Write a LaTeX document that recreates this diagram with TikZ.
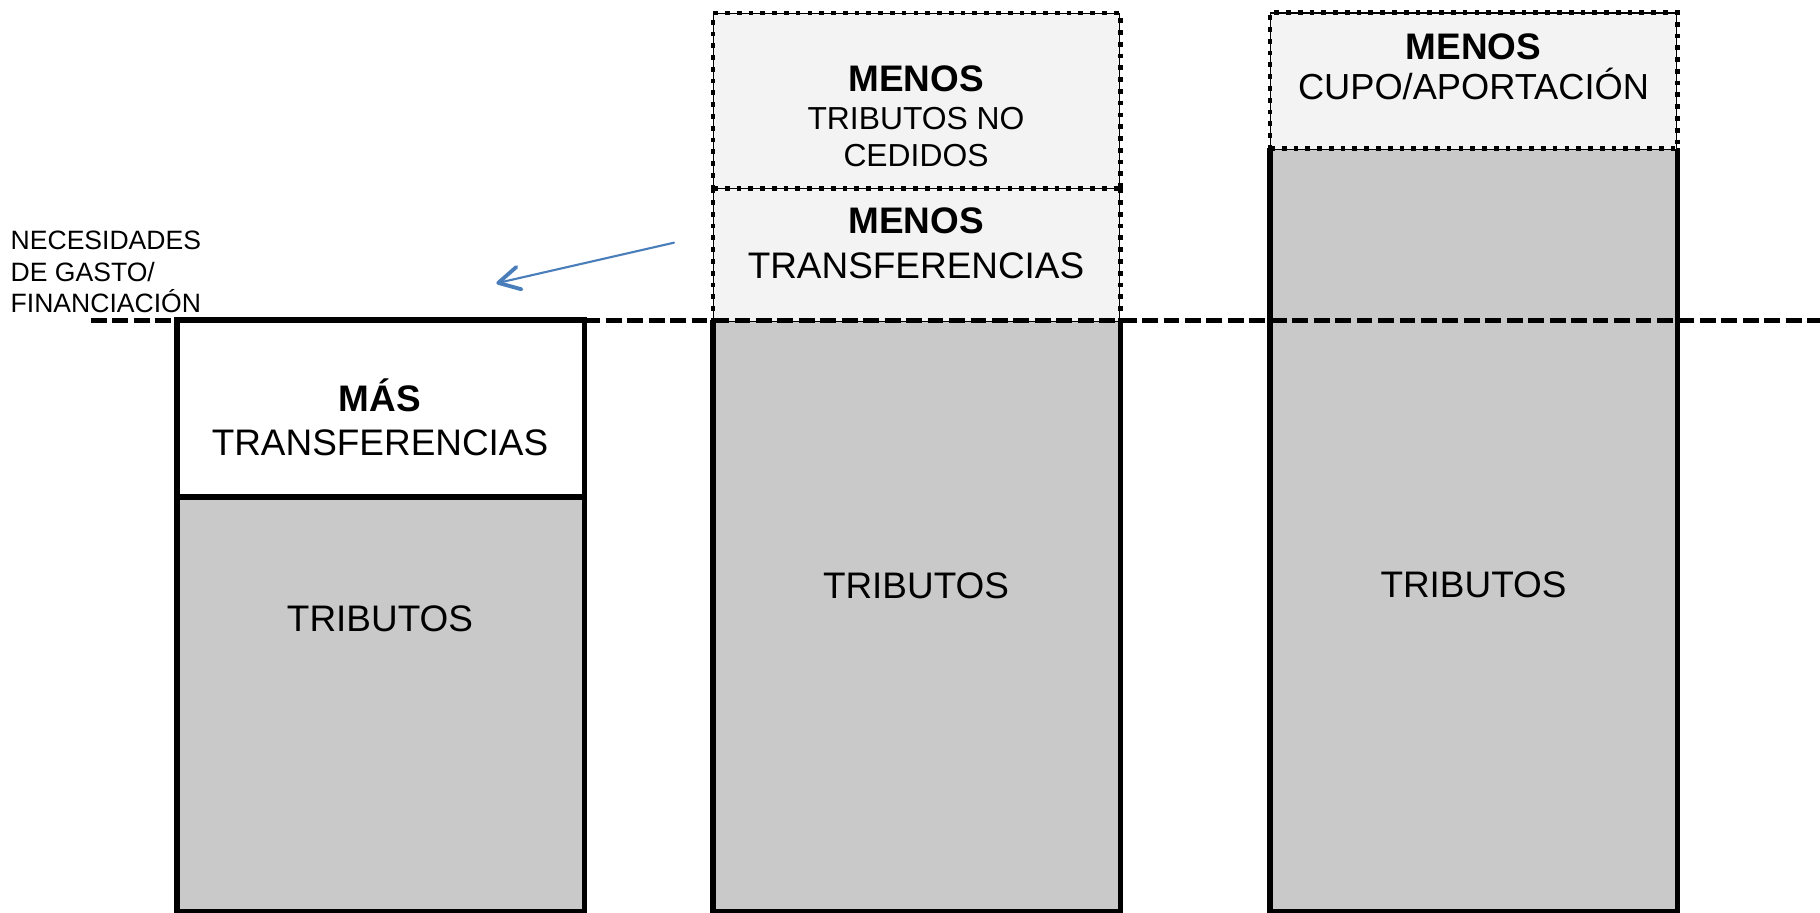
\documentclass[tikz,border=0pt]{standalone}
\usepackage{fontspec}
\setmainfont{Liberation Sans}
\usetikzlibrary{arrows.meta}
\definecolor{bargray}{RGB}{201,201,201}
\definecolor{lightfill}{RGB}{243,243,243}
\definecolor{arrowblue}{RGB}{74,126,187}
\tikzset{
  solidedge/.style={line width=1.45pt, line join=miter},
  thinedge/.style={line width=0.3pt},
  dotedge/.style={line width=1.35pt, dash pattern=on 1.35pt off 2pt},
  barbox/.style={rectangle, inner sep=0pt, minimum width=4.06cm, anchor=north west},
  whitebox/.style={barbox, fill=white},
  lightbox/.style={barbox, fill=lightfill, draw, thinedge},
  graybox/.style={barbox, fill=bargray},
  needline/.style={line width=1.45pt, dash pattern=on 4.5pt off 1.6pt},
  lbl/.style={inner sep=0pt, anchor=base, font=\fontsize{10.5}{12}\selectfont},
  lblb/.style={lbl, font=\fontsize{10.5}{12}\selectfont\bfseries},
  lbls/.style={lbl, font=\fontsize{9.05}{11}\selectfont},
  lblc/.style={lbl, font=\fontsize{10.3}{12}\selectfont},
  sidelbl/.style={inner sep=0pt, anchor=base west, font=\fontsize{7.55}{9}\selectfont},
  pointer/.style={draw=arrowblue, line width=0.6pt, line cap=round,
    -{Straight Barb[length=6pt,width=6.5pt,line width=1.1pt,round]}},
}
\begin{document}
\begin{tikzpicture}[x=0.01cm,y=-0.01cm]
\useasboundingbox (0,0) rectangle (1820,913);

% Bar 1
\node[whitebox, minimum height=1.755cm] (t1) at (177,320) {};
\node[graybox, minimum height=4.145cm] (g1) at (177,495.5) {};
\draw[solidedge] (g1.north west) -- (g1.south west) -- (g1.south east) -- (g1.north east);
\draw[solidedge] (t1.north west) rectangle (t1.south east);

% Bar 2
\node[graybox, minimum height=5.895cm] (g2) at (713,320.5) {};
\draw[solidedge] (g2.north west) -- (g2.south west) -- (g2.south east) -- (g2.north east);
\node[lightbox, minimum height=1.753cm] (n2) at (713,13) {};
\node[lightbox, minimum height=1.322cm] (m2) at (713,188.3) {};
\draw[dotedge] (n2.south west) -- (n2.north west) -- (n2.north east) -- (n2.south east);
\draw[dotedge] (m2.north west) -- (m2.north east);
\draw[dotedge] (m2.north west) -- (m2.south west);
\draw[dotedge] (m2.north east) -- (m2.south east);

% Bar 3
\node[graybox, minimum height=7.615cm] (g3) at (1270,148.5) {};
\draw[solidedge] (g3.north west) -- (g3.south west) -- (g3.south east) -- (g3.north east);
\node[lightbox, minimum height=1.36cm] (c3) at (1270,12.5) {};
\draw[dotedge] (c3.south west) -- (c3.north west) -- (c3.north east) -- (c3.south east);
\draw[dotedge] (g3.north west) -- (g3.north east);

% Level line
\coordinate (dl) at (91,320.5);
\coordinate (dr) at (1820,320.5);
\draw[needline] (dl) -- (dr);

% Texts bar 1
\node[lblb] (t1a) at (380,411.7) {MÁS};
\node[lbl] (t1b) at (380,455.5) {TRANSFERENCIAS};
\node[lbl] (g1t) at (380,632) {TRIBUTOS};

% Texts bar 2
\node[lblb] (n2a) at (916,92) {MENOS};
\node[lbls] (n2b) at (916,129.5) {TRIBUTOS NO};
\node[lbls] (n2c) at (916,167) {CEDIDOS};
\node[lblb] (m2a) at (916,233.5) {MENOS};
\node[lbl] (m2b) at (916,278.5) {TRANSFERENCIAS};
\node[lbl] (g2t) at (916,599) {TRIBUTOS};

% Texts bar 3
\node[lblb] (c3a) at (1473.5,60) {MENOS};
\node[lblc] (c3b) at (1473.5,100) {CUPO/APORTACIÓN};
\node[lbl] (g3t) at (1473.5,598) {TRIBUTOS};

% Side label
\node[sidelbl] (s1) at (10,250) {NECESIDADES};
\node[sidelbl] (s2) at (10,282) {DE GASTO/};
\node[sidelbl] (s3) at (10,313) {FINANCIACIÓN};

% Arrow
\coordinate (as) at (674,242.7);
\coordinate (at) at (496.4,283.3);
\draw[pointer] (as) -- (at);
\end{tikzpicture}
\end{document}
